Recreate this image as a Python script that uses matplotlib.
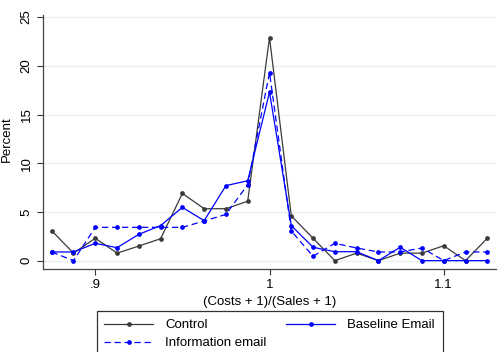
import numpy as np
import matplotlib.pyplot as plt

plt.rcParams['font.family'] = ['Liberation Sans', 'DejaVu Sans']

# Bin centres of (Costs + 1)/(Sales + 1)
ratio = [0.875, 0.8875, 0.9, 0.9125, 0.925, 0.9375, 0.95, 0.9625, 0.975, 0.9875,
         1.0, 1.0125, 1.025, 1.0375, 1.05, 1.0625, 1.075, 1.0875, 1.1, 1.1125, 1.125]

control = [3.07, 0.77, 2.3, 0.77, 1.5, 2.25, 6.9, 5.33, 5.33, 6.1,
           22.9, 4.6, 2.3, 0.0, 0.77, 0.0, 0.77, 0.77, 1.53, 0.0, 2.3]
baseline = [0.89, 0.89, 1.78, 1.33, 2.7, 3.6, 5.47, 4.1, 7.7, 8.2,
            17.3, 3.6, 1.37, 0.92, 0.92, 0.0, 1.37, 0.0, 0.0, 0.0, 0.0]
information = [0.89, 0.0, 3.42, 3.42, 3.42, 3.42, 3.42, 4.07, 4.75, 7.8,
               19.3, 3.04, 0.45, 1.78, 1.3, 0.89, 0.89, 1.3, 0.0, 0.89, 0.89]

fig = plt.figure(figsize=(5, 3.52), dpi=100)
ax = fig.add_axes([0.086, 0.236, 0.906, 0.721])

ax.plot(ratio, control, color='#3a3a3a', lw=0.9, marker='o', ms=2.4, label='Control')
ax.plot(ratio, information, color='#0000ff', lw=0.9, ls=(0, (5, 3)), marker='o', ms=2.4,
        label='Information email')
ax.plot(ratio, baseline, color='#0000ff', lw=0.9, marker='o', ms=2.4, label='Baseline Email')

ax.set_xlim(0.870, 1.130)
ax.set_ylim(-0.85, 25.2)
ax.set_yticks([0, 5, 10, 15, 20, 25])
ax.set_xticks([0.9, 1.0, 1.1])
ax.set_xticklabels(['.9', '1', '1.1'])
ax.set_yticklabels(['0', '5', '10', '15', '20', '25'], rotation=90, va='center')
ax.tick_params(labelsize=9.5, color='#333333', length=4.5, width=0.8, pad=3)
ax.grid(axis='y', color='#e8f0f2', lw=1)
ax.set_axisbelow(True)

for s in ['top', 'right']:
    ax.spines[s].set_visible(False)
for s in ['left', 'bottom']:
    ax.spines[s].set_color('#444444')
    ax.spines[s].set_linewidth(0.9)

ax.set_ylabel('Percent', fontsize=9.5)
ax.yaxis.set_label_coords(-0.066, 0.512)
ax.set_xlabel('(Costs + 1)/(Sales + 1)', fontsize=9.5, labelpad=3)

leg = fig.legend(loc='upper left', bbox_to_anchor=(0.193, -0.3, 0.692, 0.416),
                 mode='expand', ncol=2, fontsize=9.5, handlelength=3.7,
                 handletextpad=0.9, fancybox=False, framealpha=1,
                 edgecolor='#333333', borderaxespad=0, borderpad=0.6,
                 labelspacing=0.45)
leg.get_frame().set_linewidth(0.9)

fig.savefig('out.png', dpi=100)
